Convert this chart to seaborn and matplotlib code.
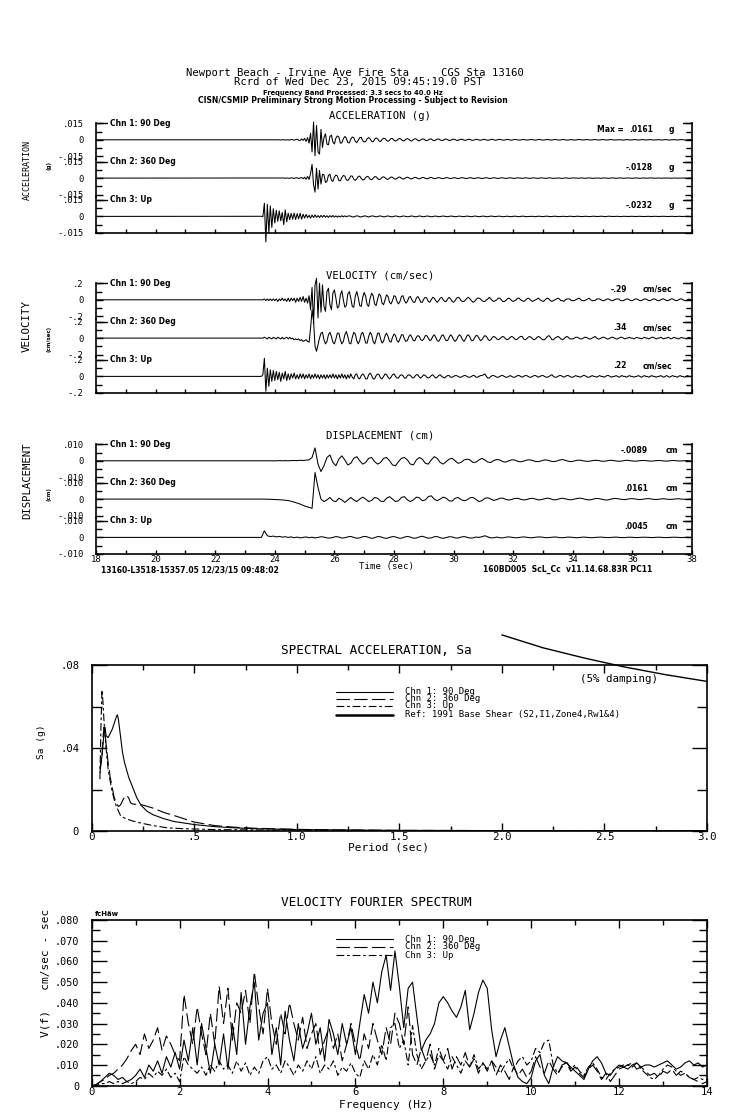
import numpy as np
import pandas as pd
import matplotlib
matplotlib.use("Agg")
import matplotlib.pyplot as plt
from matplotlib.lines import Line2D
import seaborn as sns

W, H = 739, 1115

# ---------------------------------------------------------------- text data
HEADER = ["Newport Beach - Irvine Ave Fire Sta     CGS Sta 13160",
          "Rcrd of Wed Dec 23, 2015 09:45:19.0 PST",
          "Frequency Band Processed: 3.3 secs to 40.0 Hz",
          "CISN/CSMIP Preliminary Strong Motion Processing - Subject to Revision"]
CHANNELS = ["Chn 1: 90 Deg", "Chn 2: 360 Deg", "Chn 3: Up"]
GROUP_TITLES = ["ACCELERATION (g)", "VELOCITY (cm/sec)", "DISPLACEMENT (cm)"]
GROUP_YLABELS = ["ACCELERATION", "VELOCITY", "DISPLACEMENT"]
GROUP_UNITS = ["(g)", "(cm/sec)", "(cm)"]
ACC_TICKLABELS = ["-.015", "0", ".015"]
VEL_TICKLABELS = ["-.2", "0", ".2"]
DIS_TICKLABELS = ["-.010", "0", ".010"]
ACC_PEAKS = [".0161", "-.0128", "-.0232"]
VEL_PEAKS = ["-.29", ".34", ".22"]
DIS_PEAKS = ["-.0089", ".0161", ".0045"]
TIME_TICKS = [18, 20, 22, 24, 26, 28, 30, 32, 34, 36, 38]
FOOT_LEFT = "13160-L3518-15357.05 12/23/15 09:48:02"
FOOT_RIGHT = "160BD005  ScL_Cc  v11.14.68.83R PC11"

# ---------------------------------------------------------------- time series
PRE_EVENT_T = 18.0        # record start (quiet)
REC_T0 = 23.5             # first sample of listed acc/vel values
DT_AV = 0.05              # sample step of acc / vel lists (s)
DIS_T0 = 23.55            # first sample of listed displacement values
DT_D = 0.1                # sample step of displacement lists (s)

ACC_UNIT = 1e-4           # g
ACC_CH1 = [0,0,1,-1,1,0,-1,1,-1,0, 1,-1,1,0,-2,1,1,-2,0,1, -3,3,1,-4,2,5,-4,-6,8,-5,
           12,-15,20,-30,60,-110,161,-145,130,-110, -130,95,-70,20,55,-40,-45,30,42,-20,
           -38,15,35,25,-30,-28,10,30,15,-25, -28,5,25,20,-15,-25,-5,20,22,-8,
           -20,-15,10,20,8,-15,-18,5,17,10, -12,-15,3,14,12,-6,-14,-4,12,11,
           -5,-12,-6,9,12,2,-10,-9,5,11, 4,-8,-10,2,10,6,-6,-9,0,8,
           7,-4,-8,-2,7,7,-3,-8,-2,6, 7,-1,-7,-4,4,7,1,-6,-5,3,
           6,2,-5,-5,1,5,4,-3,-5,0, 5,3,-3,-5,-1,4,4,-2,-4,-1, 4,3,-2,-4,-2,3,4,0,-4,-2,
           3,4,0,-3,-3,1,4,2,-2,-3, 0,3,3,-1,-3,-2,2,3,1,-3, -2,1,3,2,-2,-3,0,3,2,-1,
           -3,-1,2,3,0,-2,-2,1,3,1, -2,-3,0,2,2,-1,-3,-1,2,2, 0,-2,-2,1,3,1,-2,-2,0,2,
           2,-1,-2,-1,2,2,0,-2,-2,1, 2,1,-1,-2,0,2,2,-1,-2,-1, 1,2,1,-2,-2,0,2,1,-1,-2,
           0,2,2,-1,-2,-1,1,2,0,-2, -1,1,2,0,-2,-1,1,2,1,-1, -2,0,2,1,-1,-2,0,1,2,0,
           -2,-1,1,2,0,-1,-2,0,2,1, 0]
ACC_CH2 = [0,0,1,0,-1,1,0,-1,1,0, -1,1,0,1,-1,0,1,-2,1,0, -2,2,1,-3,2,3,-4,2,5,-6,
           8,-10,15,-12,40,125,-60,-128,90,-100, 70,-55,35,30,-40,-30,25,35,-20,-30,
           10,28,20,-22,-25,5,24,18,-15,-22, -5,20,18,-10,-20,-8,15,18,-3,-17,
           -14,6,16,10,-10,-15,-2,13,12,-5, -13,-8,8,12,4,-9,-11,0,10,7,
           -5,-10,-3,8,9,-1,-9,-6,4,8, 3,-6,-7,1,7,5,-4,-7,-1,6,
           5,-2,-6,-3,4,6,0,-5,-4,2, 5,2,-4,-5,0,4,4,-2,-4,-1,
           4,3,-2,-4,-2,3,4,1,-3,-3, 1,4,2,-2,-4,-1,3,3,-1,-3, -2,2,3,1,-3,-3,1,3,2,-2,
           -3,0,3,2,-1,-3,-1,2,3,0, -2,-2,1,3,1,-2,-2,0,2,2, -1,-2,-1,2,2,0,-2,-2,1,2,
           1,-1,-2,0,2,2,-1,-2,-1,1, 2,1,-2,-2,0,2,1,-1,-2,0, 2,1,-1,-2,-1,1,2,0,-2,-1,
           1,2,0,-2,-1,0,2,1,-1,-2, 0,2,1,-1,-2,0,1,2,0,-2, -1,1,2,0,-2,-1,1,2,0,-1,
           -2,0,2,1,-1,-2,0,1,1,-1, -1,0,2,1,-1,-1,0,1,1,-1, -1,0,1,1,0,-1,-1,0,1,1,
           -1,-1,0,1,1,0,-1,-1,1,1, 0]
ACC_CH3 = [0,1,-2,120,-232,110,-150,95,-100,70, -60,55,-45,50,-40,35,-75,60,-50,30,
           -30,28,-25,30,-28,25,-22,28,-25,20, -15,18,-12,10,-16,12,-10,14,-9,8,
           -10,9,-7,10,-8,6,-9,7,-5,8, -6,5,-7,4,-5,6,-3,5,-4,3,
           5,2,-4,-5,1,5,3,-3,-5,0, 4,4,-2,-5,-1,4,4,-1,-4,-2,
           3,4,0,-4,-3,2,4,1,-3,-3, 1,4,2,-2,-4,0,3,3,-1,-3,
           -2,2,4,1,-3,-3,1,4,2,-2, -3,0,3,3,-1,-3,-2,2,3,0, -3,-2,2,3,1,-2,-3,0,3,2,
           -1,-3,-1,2,3,0,-2,-2,1,3, 1,-2,-3,0,3,2,-1,-3,-1,2, 3,0,-3,-2,1,3,1,-2,-2,0,
           2,2,-1,-3,-1,2,2,0,-2,-2, 1,2,1,-2,-2,0,2,2,-1,-2, -1,1,2,1,-2,-2,0,2,1,-1,
           -2,0,2,2,-1,-2,-1,1,2,0, -2,-1,1,2,1,-1,-2,0,2,1, -1,-2,0,2,1,-1,-2,0,1,1,
           0,-2,-1,1,2,0,-1,-1,1,2, 0,-1,-2,0,2,1,-1,-1,0,2, 1,-1,-2,0,1,1,0,-1,-1,1,
           1,0,-1,-1,1,1,0,-1,-1,0, 1,1,-1,-1,0,1,1,-1,-1,0, 1,1,0,-1,-1,0,1,1,-1,-1,
           0,1,1,-1,-1,0,1,1,0,-1, 0]

VEL_UNIT = 0.01           # cm/sec
VEL_CH1 = [0,0,0,1,-1,1,-1,1,-1,1, -1,1,-2,1,-1,2,-1,1,-2,2, -2,2,-1,2,-3,2,-2,3,-2,4,
           -3,2,-4,5,-12,15,-29,18,26,-22, 20,-15,18,-8,-14,10,14,-6,-12,8,
           12,2,-10,-8,6,11,0,-9,-7,7, 10,2,-8,-9,4,10,3,-7,-8,3,
           9,4,-6,-8,2,8,5,-5,-7,1, 7,5,-4,-6,0,6,4,-3,-5,-1,
           5,4,-2,-5,-2,4,5,-1,-4,-2, 3,4,0,-3,-3,2,4,1,-3,-3,
           1,3,2,-2,-3,0,3,2,-1,-3, -1,2,3,0,-2,-2,1,3,1,-2,
           -3,-1,2,3,2,-1,-2,-2,0,2, 3,1,-1,-3,-2,0,2,2,1,-1, -2,-2,0,1,3,1,-1,-2,-1,0,
           2,2,0,-2,-2,-1,1,2,1,-1, -2,-1,0,2,2,0,-1,-2,-1,1, 2,1,-1,-2,-1,0,1,2,0,-1,
           -2,-1,1,2,1,-1,-2,-1,0,1, 2,1,-1,-1,-2,0,1,1,1,-1, -1,-1,0,1,2,1,-1,-1,-1,0,
           1,2,0,-1,-1,-1,1,1,1,0, -1,-1,0,1,1,0,-1,-1,0,1, 1,1,-1,-1,-1,0,1,1,0,-1,
           -1,0,1,1,0,-1,-1,0,1,1, 0,-1,-1,0,1,1,0,-1,-1,0, 1,1,0,-1,-1,0,1,1,0,-1,
           -1,0,1,1,0,-1,-1,0,1,0, 0]
VEL_CH2 = [0,0,0,1,0,-1,1,0,-1,1, 0,-1,1,0,-1,1,-1,0,1,-1, 1,-1,0,-2,-1,-2,-1,-3,-2,-4,
           -3,-2,-4,-5,12,34,22,-10,-16,-8, 0,6,7,-2,-7,-4,4,7,2,-5,
           -7,-1,6,6,-2,-7,-4,4,8,2, -6,-7,1,7,5,-3,-7,-3,5,7,
           1,-6,-6,2,7,4,-4,-7,-1,6, 6,-1,-6,-4,3,6,2,-4,-5,1,
           5,3,-3,-5,-1,4,4,-1,-4,-3, 2,4,1,-3,-3,1,3,2,-2,-3,
           -1,3,3,0,-3,-2,2,4,1,-3, -4,-1,3,4,0,-3,-3,1,4,2,
           -2,-4,-2,2,4,2,-2,-4,-1,3, 4,1,-3,-3,0,3,3,0,-3,-2, 1,3,2,-1,-3,-2,1,2,1,-1,
           -2,-1,1,2,1,-1,-2,-1,1,2, 1,-1,-2,-1,1,2,2,-1,-2,-1, 1,2,1,-1,-2,-1,1,2,1,-1,
           -2,-2,0,2,3,1,-2,-2,0,1, 2,1,-1,-2,-1,1,2,1,-1,-1, -1,0,1,1,0,-1,-1,0,1,1,
           0,-1,-1,0,1,2,0,-1,-1,0, 1,1,0,-1,-1,0,1,1,0,-1, -1,0,1,1,0,-1,0,0,1,0,
           0,-1,0,1,0,0,-1,0,1,0, 0,-1,0,1,1,0,-1,0,0,1, 0,-1,0,0,1,0,-1,0,1,0,
           0,-1,0,1,0,0,-1,0,1,0, 0]
VEL_CH3 = [0,0,2,22,-18,10,-12,8,-6,7, -5,6,-4,5,-6,4,-3,6,-5,3, -4,3,-2,4,-3,2,-3,3,-2,3,
           -3,2,-2,3,-3,2,-2,3,-2,2, -3,2,-2,2,-3,2,-2,2,-2,3,
           -2,2,-3,2,-2,3,-2,2,-3,2, -2,3,-1,-3,2,3,-2,-3,1,3,
           1,-3,-3,2,4,1,-3,-3,1,3, 2,-2,-3,0,3,2,-1,-3,-1,2,
           3,0,-2,-2,1,2,1,-2,-2,1, 2,1,-1,-2,0,2,2,-1,-2,0,
           2,1,-1,-2,-1,1,2,0,-2,-1, 1,2,0,-1,-2,0,1,1,-1,-1,
           0,1,1,0,-1,-1,0,1,1,0, -1,-1,0,1,1,-1,-1,0,1,1, 2,3,0,-2,-2,0,1,1,0,-1,
           -1,0,1,1,0,-1,-1,0,1,0, -1,-1,0,1,1,0,-1,0,1,1, 0,-1,-1,0,1,1,0,-1,0,1,
           1,0,-1,-1,0,1,2,0,-1,-1, 0,1,1,0,-1,0,1,1,0,-1, -1,0,1,0,0,-1,0,1,1,0,
           -1,-1,0,1,0,0,-1,0,1,0, 0,-1,0,1,1,0,-1,0,0,1, 0,-1,0,1,0,0,-1,0,1,0,
           0,-1,0,0,1,0,-1,0,1,0, 0,-1,0,1,0,0,-1,0,0,1, 0,-1,0,1,0,-1,0,1,0,0,
           -1,0,1,0,0,-1,0,1,0,0, 0]

DIS_UNIT = 1e-4           # cm
DIS_CH1 = [0,0,0,0,0,0,1,0,1,0, 1,2,1,3,2,4,6,20,78,-20, -65,-30,20,35,-10,-30,10,30,5,-25,
           -15,15,25,0,-20,-10,15,20,-5,-20, -10,15,20,0,-25,-30,-5,15,20,5,
           -20,-25,5,20,10,-15,-20,5,25,15, -10,-20,-5,10,15,0,-15,-10,5,10,
           5,-10,-8,5,15,5,-8,-10,2,8, 5,-5,-8,0,6,5,-3,-6,-2,4,
           6,2,-4,-5,0,5,4,-2,-5,-2, 4,8,3,-3,-5,-1,3,4,0,-3,
           -3,1,3,2,-2,-3,0,3,2,-1, -3,-1,2,3,0,-2,-2,1,2,1,
           -1,-2,0,2,1,-1,-2,0,2,1, -1,-1,1,1,0]
DIS_CH2 = [0,0,-1,-1,-2,-3,-4,-5,-7,-9, -13,-18,-24,-30,-38,-45,-50,-56,161,70,
           0,-15,-5,10,-10,-15,5,-5,-20,-5, 10,-5,-15,0,12,0,-15,-8,10,5,
           -12,-15,5,15,0,-15,-10,10,15,-5, -15,-5,12,8,-10,-5,15,20,0,-10,
           0,12,5,-10,-12,5,10,-3,-10,-5, 8,10,-2,-15,-10,5,8,0,-8,-3,
           5,6,-2,-6,-2,4,5,-1,-5,-3, 3,5,0,-5,-3,2,6,2,-4,-4,
           2,5,2,-3,-4,0,4,6,2,-3, -5,-2,3,4,0,-4,-6,-2,3,4,
           1,-2,-3,0,3,2,-1,-3,-1,2, 3,0,-2,-2,1,2,0,-2,-1,1, 2,0,-1,-1,1]
DIS_CH3 = [0,40,10,5,8,3,6,2,4,0, 3,-2,2,-3,0,3,-2,1,-3,0, 4,2,-3,-4,0,5,2,-4,-2,3,
           6,0,-5,-3,4,6,0,-6,-2,5, 4,-3,-6,0,5,3,-4,-5,2,6,
           2,-5,-4,3,7,1,-5,-3,4,5, -2,-6,-1,4,3,-3,-4,2,5,1,
           -4,-3,2,0,4,10,3,-3,-2,2, -2,-3,1,3,1,-2,-2,1,3,1,
           -2,-2,1,3,2,-1,-2,0,2,2, -1,-2,0,2,1,-1,-2,0,2,1,
           -1,-2,0,1,2,0,-1,-1,1,2, 0,-1,-1,1,1,0,-1,0,1,1,
           0,-1,0,1,1,-1,-1,0,1,1, 0,-1,0,1,0]

# ---------------------------------------------------------------- spectral acceleration (g)
SA_T1 = [0.04,0.05,0.06,0.065,0.07,0.08,0.09,0.10,0.11,0.12,0.125,0.13,0.14,0.15,0.16,0.18,0.20,
         0.22,0.24,0.27,0.30,0.35,0.40,0.50,0.60,0.70,0.80,1.0,1.2,1.5,2.0,2.5,3.0]
SA_V1 = [0.030,0.036,0.047,0.050,0.046,0.045,0.047,0.049,0.052,0.055,0.056,0.054,0.046,0.038,
         0.033,0.026,0.021,0.016,0.0125,0.0095,0.0078,0.006,0.0046,0.0031,0.0021,0.0015,0.0011,
         0.0007,0.0005,0.0003,0.0002,0.00015,0.0001]
SA_T2 = [0.04,0.05,0.055,0.06,0.065,0.07,0.08,0.09,0.10,0.11,0.12,0.13,0.14,0.155,0.17,0.18,
         0.19,0.20,0.22,0.25,0.30,0.35,0.40,0.50,0.60,0.70,0.80,1.0,1.2,1.5,2.0,2.5,3.0]
SA_V2 = [0.028,0.036,0.045,0.050,0.048,0.042,0.033,0.026,0.021,0.016,0.0135,0.0118,0.0125,
         0.0155,0.0172,0.016,0.0135,0.013,0.0128,0.0125,0.011,0.009,0.0075,0.0043,0.0026,
         0.0018,0.0013,0.0008,0.0005,0.0003,0.0002,0.00012,0.0001]
SA_T3 = [0.04,0.045,0.05,0.055,0.06,0.065,0.07,0.08,0.09,0.10,0.11,0.12,0.14,0.16,0.20,0.25,
         0.30,0.37,0.45,0.6,0.8,1.0,1.5,2.0,3.0]
SA_V3 = [0.025,0.050,0.068,0.062,0.053,0.046,0.040,0.030,0.024,0.019,0.015,0.012,0.0075,
         0.0062,0.0048,0.0036,0.0026,0.0015,0.0011,0.0007,0.0005,0.0004,0.0002,0.0001,0.0001]
REF_T = [2.0, 2.2, 2.4, 2.6, 2.8, 3.0]
REF_SA = [0.0945, 0.0883, 0.0834, 0.0790, 0.0753, 0.0721]
SA_LEGEND = ["Chn 1: 90 Deg", "Chn 2: 360 Deg", "Chn 3: Up",
             "Ref: 1991 Base Shear (S2,I1,Zone4,Rw1&4)"]
SA_XTICKS = [0, 0.5, 1.0, 1.5, 2.0, 2.5, 3.0]
SA_XTICKLABELS = ["0", ".5", "1.0", "1.5", "2.0", "2.5", "3.0"]
SA_YTICKS = [0, 0.04, 0.08]
SA_YTICKLABELS = ["0", ".04", ".08"]

# ---------------------------------------------------------------- velocity Fourier spectrum
FS_F0 = 0.0
FS_DF = 0.1               # Hz
FS_UNIT = 1e-3            # cm/sec - sec
FS_CH1 = [0,0.5,2,4,6,5,3,4,2,3, 5,8,4,10,7,12,6,14,9,16, 8,22,12,28,10,30,18,6,20,10,
          25,8,30,15,45,20,38,50,22,35, 40,15,28,10,36,22,12,30,18,25,
          35,20,28,12,32,25,15,30,20,28, 15,30,44,35,50,40,55,63,46,65,
          48,28,47,50,33,17,22,25,30,40, 43,40,36,33,38,46,27,35,45,51,
          47,27,14,22,28,19,10,4,2,1, 4,12,15,5,1,9,14,12,11,9,
          7,5,3,8,12,14,11,6,5,8, 10,9,8,10,11,9,10,10,9,10, 11,12,10,8,9,11,12,10,11,9, 10]
FS_CH2 = [0,0.5,2,3,5,6,8,10,13,17, 20,15,25,18,22,28,17,24,20,15, 12,44,30,20,38,25,15,35,20,48,
          30,47,22,40,35,46,30,55,38,25, 47,30,20,35,25,40,30,22,33,18,
          25,30,15,22,28,18,25,12,20,30, 20,12,25,18,30,22,15,28,20,35,
          30,20,38,15,10,18,12,20,8,15, 12,18,8,14,10,16,9,13,6,11,
          8,12,5,10,7,3,9,5,8,4, 7,14,9,6,12,8,5,10,11,7,
          9,6,4,8,10,7,3,6,2,5, 8,9,10,11,8,9,7,5,6,4, 7,6,8,5,7,6,4,3,2,1, 2]
FS_CH3 = [0,0,1,1,2,1,2,1,2,1, 2,4,3,6,4,7,5,8,4,6, 2,14,10,8,6,9,5,10,7,12,
          8,10,6,12,7,11,5,9,6,12, 14,8,10,6,12,9,5,10,7,12,
          8,14,6,10,8,12,5,9,7,11, 6,4,12,8,15,10,20,12,28,30,
          18,22,10,29,15,8,12,15,10,18, 12,8,14,10,6,12,9,15,8,11,
          7,12,9,6,10,13,8,12,14,10, 12,18,16,21,22,10,6,9,12,8,
          10,7,5,9,11,8,4,3,6,8, 9,10,10,9,11,8,6,4,3,5, 8,10,9,7,5,6,4,3,4,3, 3]
FS_LEGEND = ["Chn 1: 90 Deg", "Chn 2: 360 Deg", "Chn 3: Up"]
FS_XTICKS = [0, 2, 4, 6, 8, 10, 12, 14]
FS_YTICKS = [0, 0.01, 0.02, 0.03, 0.04, 0.05, 0.06, 0.07, 0.08]
FS_YTICKLABELS = ["0", ".010", ".020", ".030", ".040", ".050", ".060", ".070", ".080"]

# ---------------------------------------------------------------- styling
sns.set_theme(style="white", rc={"axes.edgecolor": "black", "axes.linewidth": 1.2,
                                 "xtick.color": "black", "ytick.color": "black",
                                 "text.color": "black"})
MONO = "DejaVu Sans Mono"
plt.rcParams["font.family"] = [MONO, "DejaVu Sans"]
SMALL = dict(family="DejaVu Sans", fontweight="bold", fontsize=5.5)
DASH2 = (0, (12, 4))
DASH3 = (0, (7, 2.5, 2.5, 2.5))
LW = 0.8

fig = plt.figure(figsize=(W / 100, H / 100), dpi=100)
fig.patch.set_facecolor("white")


def px_rect(l, t, r, b):
    return [l / W, 1 - b / H, (r - l) / W, (b - t) / H]


def ftext(x, y, s, **kw):
    kw.setdefault("va", "center")
    fig.text(x / W, 1 - y / H, s, **kw)


def fline(x0, x1, y, **kw):
    fig.add_artist(Line2D([x0 / W, x1 / W], [1 - y / H, 1 - y / H],
                          transform=fig.transFigure, color="black", **kw))


def trace_frame(values, unit, t0, dt):
    t = np.concatenate([[PRE_EVENT_T], t0 + dt * np.arange(len(values))])
    v = np.concatenate([[0.0], np.asarray(values, float) * unit])
    return pd.DataFrame({"t": t, "v": v})


# ---------------------------------------------------------------- header
ftext(355, 73, HEADER[0], family=MONO, fontsize=7.6, ha="center")
ftext(358, 82, HEADER[1], family=MONO, fontsize=7.6, ha="center")
ftext(353, 92.5, HEADER[2], ha="center", **{**SMALL, "fontsize": 4.9})
ftext(352.5, 100.5, HEADER[3], ha="center", **{**SMALL, "fontsize": 5.5})

# ---------------------------------------------------------------- time-series groups
AX_L, AX_R = 96, 692
U = 16.5          # px from 0 to the labelled tick
S = 38.3          # px between channel zero lines
HALF = S / 2
groups = [
    dict(top=123.3, traces=[ACC_CH1, ACC_CH2, ACC_CH3], unit=ACC_UNIT, t0=REC_T0, dt=DT_AV,
         ymax=0.015, labels=ACC_TICKLABELS, peaks=ACC_PEAKS, peak_r=653, unit_txt="g",
         unit_x=669, unit_ha="left", title_y=116, ylab_y=170.5, ylab_fs=6.0, unit_y=166,
         time_labels=False, max_prefix=True),
    dict(top=283.3, traces=[VEL_CH1, VEL_CH2, VEL_CH3], unit=VEL_UNIT, t0=REC_T0, dt=DT_AV,
         ymax=0.2, labels=VEL_TICKLABELS, peaks=VEL_PEAKS, peak_r=627, unit_txt="cm/sec",
         unit_x=643, unit_ha="left", title_y=275, ylab_y=326, ylab_fs=7.8, unit_y=339,
         time_labels=False, max_prefix=False),
    dict(top=444.3, traces=[DIS_CH1, DIS_CH2, DIS_CH3], unit=DIS_UNIT, t0=DIS_T0, dt=DT_D,
         ymax=0.010, labels=DIS_TICKLABELS, peaks=DIS_PEAKS, peak_r=648, unit_txt="cm",
         unit_x=666, unit_ha="left", title_y=436, ylab_y=481, ylab_fs=7.7, unit_y=494,
         time_labels=True, max_prefix=False),
]

for gi, g in enumerate(groups):
    top = g["top"]
    zeros = [top + U, top + U + S, top + U + 2 * S]
    ymax = g["ymax"]
    for k in range(3):
        t_px = top if k == 0 else zeros[k] - HALF
        b_px = zeros[k] + U if k == 2 else zeros[k] + HALF
        ax = fig.add_axes(px_rect(AX_L, t_px, AX_R, b_px))
        ax.set_facecolor("none")
        df = trace_frame(g["traces"][k], g["unit"], g["t0"], g["dt"])
        sns.lineplot(data=df, x="t", y="v", ax=ax, color="black", linewidth=0.75,
                     estimator=None, sort=False, clip_on=False)
        lo = -ymax * HALF / U if k < 2 else -ymax
        hi = ymax if k == 0 else ymax * HALF / U
        ax.set_xlim(18, 38)
        ax.set_ylim(lo, hi)
        ax.set_xlabel("")
        ax.set_ylabel("")
        ax.spines["top"].set_visible(False)
        if k < 2:
            ax.spines["bottom"].set_visible(False)
        ax.set_yticks([-ymax, 0, ymax])
        ax.set_yticklabels(g["labels"], family=MONO)
        ax.set_yticks([-ymax / 2, ymax / 2], minor=True)
        ax.tick_params(axis="y", which="major", direction="in", length=5, width=1.0,
                       left=True, right=True, labelsize=6.3, pad=9)
        ax.tick_params(axis="y", which="minor", direction="in", length=4, width=1.0,
                       left=True, right=True)
        if k == 2:
            ax.set_xticks(TIME_TICKS)
            ax.set_xticks([t + 1 for t in TIME_TICKS[:-1]], minor=True)
            if g["time_labels"]:
                ax.set_xticklabels([str(t) for t in TIME_TICKS], family=MONO)
            else:
                ax.set_xticklabels([])
            ax.tick_params(axis="x", which="both", direction="in", length=3, width=1.0,
                           bottom=True, top=False, labelsize=6.5, pad=0.5)
        else:
            ax.set_xticks([])
        # bracket at the labelled top tick
        ax.axhline(ymax, xmin=0, xmax=11 / (AX_R - AX_L), color="black", lw=1.0, clip_on=False)
        ax.axhline(ymax, xmin=1 - 9 / (AX_R - AX_L), xmax=1, color="black", lw=1.0, clip_on=False)
        # channel name and peak value
        ftext(110, zeros[k] - U, CHANNELS[k], ha="left", **SMALL)
        py = zeros[k] - U + 6
        if g["max_prefix"] and k == 0:
            ftext(597, py, "Max =", ha="left", **SMALL)
        ftext(g["peak_r"], py, g["peaks"][k], ha="right", **SMALL)
        ftext(g["unit_x"], py, g["unit_txt"], ha=g["unit_ha"], **SMALL)
    ftext(380, g["title_y"], GROUP_TITLES[gi], family=MONO, fontsize=7.6, ha="center")
    ftext(27, g["ylab_y"], GROUP_YLABELS[gi], family=MONO, fontsize=g["ylab_fs"],
          ha="center", rotation=90)
    ftext(49, g["unit_y"], GROUP_UNITS[gi], ha="center", rotation=90,
          **{**SMALL, "fontsize": 4.0})

ftext(386, 567, "Time (sec)", family=MONO, fontsize=6.6, ha="center")
ftext(101, 570, FOOT_LEFT, ha="left", **SMALL)
ftext(483, 569, FOOT_RIGHT, ha="left", **SMALL)

# ---------------------------------------------------------------- spectral acceleration
ax = fig.add_axes(px_rect(91.7, 665, 707, 831))
sns.lineplot(x=SA_T1, y=SA_V1, ax=ax, color="black", linewidth=LW, estimator=None, sort=False)
sns.lineplot(x=SA_T2, y=SA_V2, ax=ax, color="black", linewidth=LW, estimator=None, sort=False,
             linestyle=DASH2)
sns.lineplot(x=SA_T3, y=SA_V3, ax=ax, color="black", linewidth=LW, estimator=None, sort=False,
             linestyle=DASH3)
sns.lineplot(x=REF_T, y=REF_SA, ax=ax, color="black", linewidth=1.0, estimator=None,
             sort=False, clip_on=False)
ax.set_xlim(0, 3)
ax.set_ylim(0, 0.08)
ax.set_xlabel("")
ax.set_ylabel("")
ax.set_xticks(SA_XTICKS)
ax.set_xticklabels(SA_XTICKLABELS, family=MONO)
ax.set_xticks([0.25, 0.75, 1.25, 1.75, 2.25, 2.75], minor=True)
ax.set_yticks(SA_YTICKS)
ax.set_yticklabels(SA_YTICKLABELS, family=MONO)
ax.set_yticks([0.02, 0.06], minor=True)
ax.tick_params(axis="x", which="major", direction="in", length=6, width=1.0, top=True,
               bottom=True, labelsize=7.8, pad=1)
ax.tick_params(axis="x", which="minor", direction="in", length=3.5, width=1.0, top=True,
               bottom=True)
ax.tick_params(axis="y", which="major", direction="in", length=11, width=1.0, left=True,
               right=True, labelsize=7.6, pad=9)
ax.tick_params(axis="y", which="minor", direction="in", length=7, width=1.0, left=True,
               right=True)
ftext(376, 651, "SPECTRAL ACCELERATION, Sa", family=MONO, fontsize=9.2, ha="center")
ftext(619, 679, "(5% damping)", family=MONO, fontsize=7.8, ha="center")
ftext(388, 848, "Period (sec)", family=MONO, fontsize=8.0, ha="center")
ftext(42, 742, "Sa (g)", family=MONO, fontsize=6.8, ha="center", rotation=90)
sa_keys = [dict(linestyle="-", lw=LW), dict(linestyle=DASH2, lw=LW),
           dict(linestyle=DASH3, lw=LW), dict(linestyle="-", lw=1.8)]
for i, (lab, ky) in enumerate(zip(SA_LEGEND, sa_keys)):
    yy = [691.5, 698.5, 705.5, 714.5][i]
    fline(336, 393, yy, **ky)
    ftext(405, yy, lab, family=MONO, fontsize=6.5, ha="left")

# ---------------------------------------------------------------- velocity Fourier spectrum
ax = fig.add_axes(px_rect(91.7, 920, 707, 1085.7))
fs_f = FS_F0 + FS_DF * np.arange(len(FS_CH1))
fs_df = pd.DataFrame({"f": fs_f,
                      "c1": np.asarray(FS_CH1, float) * FS_UNIT,
                      "c2": np.asarray(FS_CH2, float) * FS_UNIT,
                      "c3": np.asarray(FS_CH3, float) * FS_UNIT})
sns.lineplot(data=fs_df, x="f", y="c3", ax=ax, color="black", linewidth=LW, estimator=None,
             sort=False, linestyle=DASH3)
sns.lineplot(data=fs_df, x="f", y="c2", ax=ax, color="black", linewidth=LW, estimator=None,
             sort=False, linestyle=DASH2)
sns.lineplot(data=fs_df, x="f", y="c1", ax=ax, color="black", linewidth=LW, estimator=None,
             sort=False)
ax.set_xlim(0, 14)
ax.set_ylim(0, 0.08)
ax.set_xlabel("")
ax.set_ylabel("")
ax.set_xticks(FS_XTICKS)
ax.set_xticklabels([str(v) for v in FS_XTICKS], family=MONO)
ax.set_xticks([1, 3, 5, 7, 9, 11, 13], minor=True)
ax.set_yticks(FS_YTICKS)
ax.set_yticklabels(FS_YTICKLABELS, family=MONO)
ax.set_yticks([0.005, 0.015, 0.025, 0.035, 0.045, 0.055, 0.065, 0.075], minor=True)
ax.tick_params(axis="x", which="major", direction="in", length=6, width=1.0, top=True,
               bottom=True, labelsize=7.6, pad=1)
ax.tick_params(axis="x", which="minor", direction="in", length=3.5, width=1.0, top=True,
               bottom=True)
ax.tick_params(axis="y", which="major", direction="in", length=11, width=1.0, left=True,
               right=True, labelsize=7.3, pad=9)
ax.tick_params(axis="y", which="minor", direction="in", length=6, width=1.0, left=True,
               right=True)
ftext(376, 903, "VELOCITY FOURIER SPECTRUM", family=MONO, fontsize=9.2, ha="center")
ftext(386, 1105, "Frequency (Hz)", family=MONO, fontsize=8.0, ha="center")
ftext(45, 973, "V(f)   cm/sec - sec", family=MONO, fontsize=8.0, ha="center", rotation=90)
ftext(95, 914, "fcHäw", ha="left", **{**SMALL, "fontsize": 5.0})
fs_keys = [dict(linestyle="-", lw=LW), dict(linestyle=DASH2, lw=LW), dict(linestyle=DASH3, lw=LW)]
for i, (lab, ky) in enumerate(zip(FS_LEGEND, fs_keys)):
    yy = [939.3, 946.7, 955.0][i]
    fline(336, 393, yy, **ky)
    ftext(405, yy, lab, family=MONO, fontsize=6.5, ha="left")

fig.savefig("out.png", dpi=100, facecolor="white")
